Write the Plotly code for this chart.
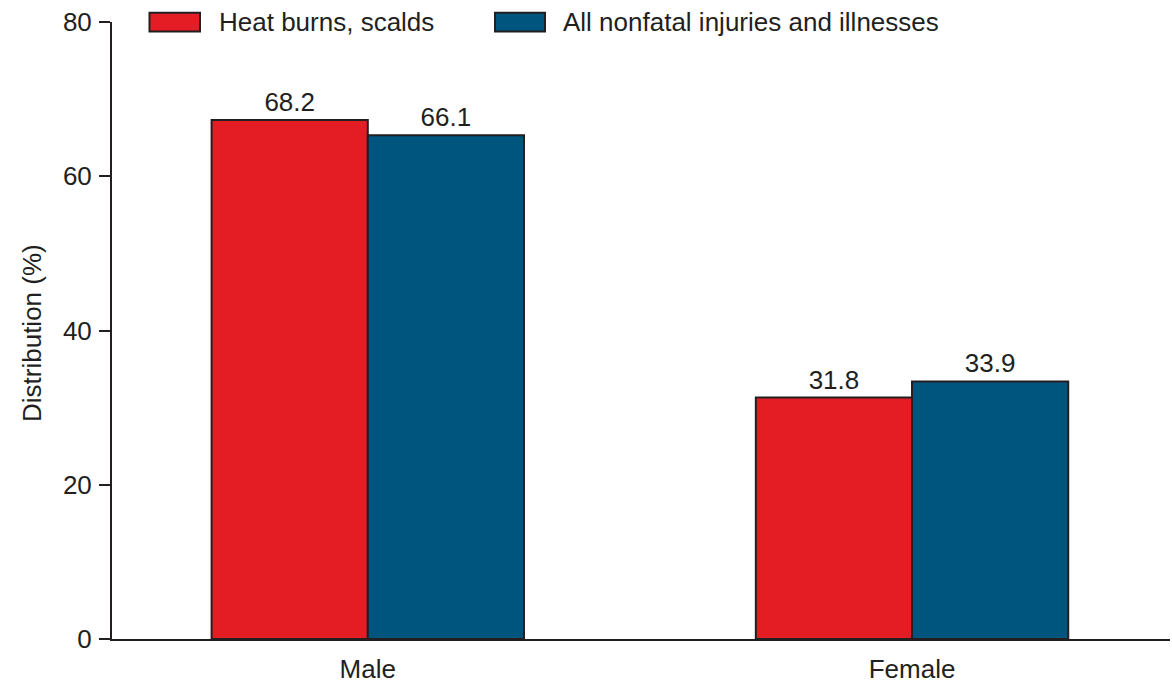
import plotly.graph_objects as go

# ---- data ----
categories = ["Male", "Female"]
series_names = ["Heat burns, scalds", "All nonfatal injuries and illnesses"]
heat_bar = [67.3, 31.3]          # bar heights as drawn
all_bar = [65.3, 33.4]
heat_labels = ["68.2", "31.8"]   # printed value labels
all_labels = ["66.1", "33.9"]
y_ticks = [0, 20, 40, 60, 80]

# ---- style ----
RED = "#e41c24"
BLUE = "#00557f"
DARK = "#231f20"
FONT = "Liberation Sans, Arial, Helvetica, sans-serif"
FS = 26

W, H = 1172, 686
ML, MR, MT, MB = 112, 2, 22, 43
PW, PH = W - ML - MR, H - MT - MB


def px(x):
    """page pixel x -> paper coordinate"""
    return (x - ML) / PW


def py(y):
    """page pixel y -> paper coordinate"""
    return (H - MB - y) / PH


fig = go.Figure()
fig.add_trace(go.Bar(
    x=categories, y=heat_bar, name=series_names[0],
    marker=dict(color=RED, line=dict(color=DARK, width=2)),
    text=heat_labels, textposition="outside", cliponaxis=False,
    textfont=dict(size=FS, color=DARK, family=FONT),
))
fig.add_trace(go.Bar(
    x=categories, y=all_bar, name=series_names[1],
    marker=dict(color=BLUE, line=dict(color=DARK, width=2)),
    text=all_labels, textposition="outside", cliponaxis=False,
    textfont=dict(size=FS, color=DARK, family=FONT),
))

# manual legend (wide swatches)
legend_items = [(149.5, 200, 217, RED, series_names[0]),
                (495, 545, 561, BLUE, series_names[1])]
for x0, x1, tx, col, name in legend_items:
    fig.add_shape(type="rect", xref="paper", yref="paper",
                  x0=px(x0), x1=px(x1), y0=py(31.5), y1=py(12.8),
                  fillcolor=col, line=dict(color=DARK, width=2))
    fig.add_annotation(xref="paper", yref="paper", x=px(tx), y=py(22),
                       xanchor="left", yanchor="middle", showarrow=False,
                       text=name, font=dict(size=FS, color=DARK, family=FONT))

fig.add_annotation(xref="paper", yref="paper", x=px(32), y=py(335),
                   xanchor="center", yanchor="middle", showarrow=False,
                   textangle=-90, text="Distribution (%)",
                   font=dict(size=FS, color=DARK, family=FONT))

fig.update_layout(
    width=W, height=H,
    margin=dict(l=ML, r=MR, t=MT, b=MB, pad=0),
    paper_bgcolor="white", plot_bgcolor="white",
    barmode="group", bargap=0.426, bargroupgap=0,
    showlegend=False, hovermode=False,
    font=dict(family=FONT, size=FS, color=DARK),
    xaxis=dict(type="category", range=[-0.47, 1.474],
               showline=True, linecolor=DARK, linewidth=2,
               ticks="", showgrid=False, zeroline=False,
               tickfont=dict(size=FS, color=DARK, family=FONT),
               ticklabelstandoff=6, ticklabeloverflow="allow"),
    yaxis=dict(range=[0, 80], tickvals=y_ticks,
               showline=True, linecolor=DARK, linewidth=2,
               ticks="outside", ticklen=11, tickwidth=2, tickcolor=DARK,
               showgrid=False, zeroline=False,
               tickfont=dict(size=FS, color=DARK, family=FONT),
               ticklabelstandoff=2, ticklabeloverflow="allow"),
)

fig.write_html("out.html",
               config={"displayModeBar": False},
               post_script="document.body.style.margin='0';"
                           "document.body.style.overflow='hidden';")
